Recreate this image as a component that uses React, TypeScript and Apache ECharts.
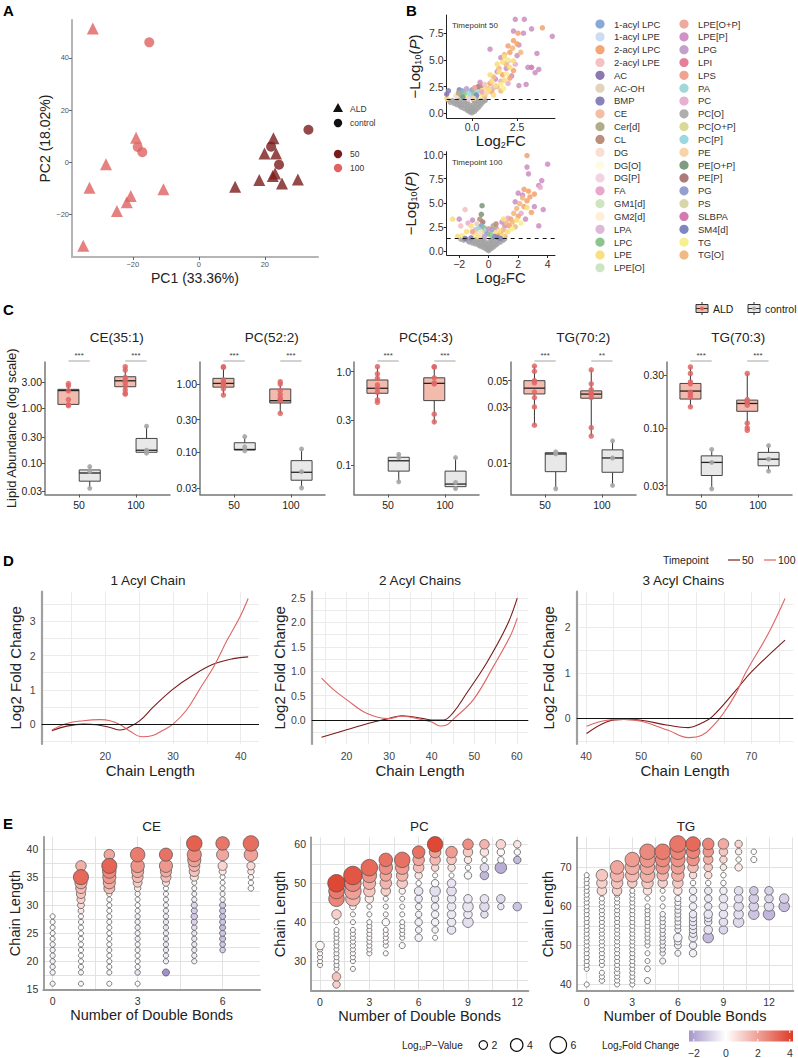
import React, { useEffect, useRef } from "react";
import * as echarts from "echarts";

const FONT = "'Liberation Sans', Arial, Helvetica, sans-serif";
const DARK_RED = "#7A1B1B";
const LIGHT_RED = "#E06262";

// ---------------- Panel A : PCA ----------------
const PCA_ALD_50 = [[11.0, -9.5], [18.3, -6.9], [19.9, 3.3], [22.6, 9.1], [23.4, 3.3], [23.1, -4.4], [22.4, -5.4], [25.2, -8.2], [30.0, -6.7]];
const PCA_CTRL_50 = [[33.2, 12.4], [21.9, 5.9], [24.3, -1.0]];
const PCA_ALD_100 = [[-32.1, 51.3], [-19.0, 9.3], [-28.1, -0.8], [-33.1, -9.9], [-20.6, -13.1], [-21.8, -15.5], [-24.8, -18.8], [-10.7, -10.5], [-35.0, -32.2]];
const PCA_CTRL_100 = [[-15.0, 46.0], [-18.5, 5.8], [-17.1, 3.8]];
const PCA_X_TICKS = [-20, 0, 20];
const PCA_Y_TICKS = [-20, 0, 20, 40];

// ---------------- Panel B : volcano ----------------
const LIPID_CLASSES = ["1-acyl LPC", "1-acyl LPE", "2-acyl LPC", "2-acyl LPE", "AC", "AC-OH", "BMP", "CE", "Cer[d]", "CL", "DG", "DG[O]", "DG[P]", "FA", "GM1[d]", "GM2[d]", "LPA", "LPC", "LPE", "LPE[O]", "LPE[O+P]", "LPE[P]", "LPG", "LPI", "LPS", "PA", "PC", "PC[O]", "PC[O+P]", "PC[P]", "PE", "PE[O+P]", "PE[P]", "PG", "PS", "SLBPA", "SM4[d]", "TG", "TG[O]"];
const CLASS_COLORS = ["#86A9D6", "#CDDCF0", "#F4A673", "#F5C2C2", "#8C78B3", "#E3D3BC", "#8982BA", "#F3BDA6", "#B0AD8A", "#BC8E7E", "#F8DFD2", "#FDFBE6", "#F3D3E3", "#EBA6CB", "#D0E4C0", "#FDF0D9", "#DFB8D9", "#8CC48E", "#F9DF7F", "#CEE5C1", "#EFAAA0", "#CF93C5", "#C3A1CB", "#E5809B", "#F0A392", "#A0D8D9", "#E5B0D1", "#AEAEAE", "#DAD998", "#9DD8E1", "#F9D4A8", "#7E9C81", "#AE7B7B", "#93A0CF", "#D8D6A9", "#D47AB2", "#7F87C3", "#F8F08E", "#F0BA86"];
const VOLC_THRESHOLD = 1.3;
const VOLC50_X_TICKS = [0, 2.5];
const VOLC50_Y_TICKS = [0, 2.5, 5, 7.5];
const VOLC100_X_TICKS = [-2, 0, 2, 4];
const VOLC100_Y_TICKS = [0, 2.5, 5, 7.5, 10];
const VOLC50_GRAY = [[-1.7, 1.2], [-1.5, 1.1], [-1.35, 1.25], [-1.2, 1.0], [-1.1, 1.2], [-1.0, 0.9], [-0.95, 1.15], [-0.85, 0.8], [-0.8, 1.05], [-0.7, 0.7], [-0.65, 1.0], [-0.6, 0.55], [-0.55, 0.85], [-0.5, 1.2], [-0.45, 0.45], [-0.4, 0.75], [-0.35, 1.1], [-0.3, 0.3], [-0.28, 0.6], [-0.22, 0.9], [-0.2, 0.2], [-0.15, 0.45], [-0.12, 0.75], [-0.1, 0.1], [-0.05, 0.3], [0.0, 0.02], [0.0, 0.55], [0.05, 0.2], [0.08, 0.85], [0.1, 0.4], [0.15, 0.15], [0.18, 0.65], [0.2, 1.1], [0.25, 0.35], [0.3, 0.8], [0.35, 0.5], [0.4, 1.0], [0.45, 0.7], [0.5, 1.2], [0.55, 0.9], [0.65, 1.1], [0.75, 1.2], [-0.25, 1.2], [0.1, 1.2], [-0.75, 1.25], [0.3, 1.2]];
const VOLC50_POINTS = [
  [2.4, 8.8, 21], [2.9, 8.8, 21], [2.3, 7.7, 21], [2.85, 7.5, 21], [3.3, 7.9, 21], [4.45, 7.2, 21], [2.6, 6.4, 21], [3.6, 5.6, 21], [3.1, 4.3, 21], [3.3, 4.3, 35], [3.7, 4.1, 21], [1.6, 5.2, 21], [2.0, 4.9, 26], [2.5, 5.4, 21], [1.9, 4.2, 21], [1.3, 3.2, 21], [1.6, 3.0, 26], [2.2, 3.5, 21], [2.6, 2.6, 21], [3.0, 2.7, 21], [1.0, 6.0, 21], [2.4, 4.6, 26], [1.4, 3.9, 21], [2.0, 2.8, 26], [3.5, 3.8, 21], [1.2, 2.4, 26],
  [3.9, 8.0, 2], [2.55, 7.5, 2], [2.3, 6.8, 2], [2.0, 6.3, 2], [2.25, 6.1, 38], [2.5, 6.5, 2], [1.8, 5.5, 38], [2.1, 5.7, 2], [1.9, 4.6, 38], [2.3, 4.0, 2], [1.5, 4.2, 38], [1.7, 3.6, 2], [1.2, 3.4, 38], [1.0, 2.8, 2], [1.4, 2.5, 38], [2.1, 3.3, 2], [0.9, 2.3, 38], [1.1, 2.0, 2], [0.7, 1.6, 38], [1.6, 2.1, 38], [2.7, 5.7, 38],
  [1.8, 5.3, 18], [1.7, 4.8, 18], [2.0, 5.0, 37], [1.4, 4.6, 18], [1.5, 3.9, 18], [1.9, 3.7, 37], [1.1, 3.0, 18], [1.3, 2.6, 18], [1.6, 2.7, 37], [1.8, 3.1, 18], [0.95, 2.2, 18], [0.6, 1.8, 18], [0.4, 1.6, 37], [0.7, 2.4, 18], [1.2, 1.7, 18], [2.3, 4.9, 18], [2.1, 4.3, 18], [1.0, 3.6, 18], [1.75, 2.3, 37], [0.5, 2.1, 18], [-1.4, 1.4, 18], [-0.8, 1.7, 18], [-0.3, 1.5, 37],
  [-1.3, 2.1, 6], [-1.4, 1.8, 4], [-0.7, 2.2, 6], [-0.55, 2.1, 0], [-0.6, 1.7, 0], [-0.4, 1.9, 17], [-0.5, 1.5, 31], [-0.2, 2.0, 29], [-0.1, 1.6, 25], [0.0, 2.2, 0], [0.1, 1.9, 17], [0.2, 1.5, 33], [0.3, 2.1, 25], [0.35, 2.5, 32], [0.5, 2.6, 9], [0.45, 2.9, 21], [0.25, 1.7, 36], [-0.9, 1.6, 10], [-0.75, 1.9, 8], [-0.3, 2.3, 22], [0.15, 2.4, 24], [0.55, 2.0, 13], [0.7, 2.7, 3], [0.1, 1.4, 30], [-0.2, 1.35, 12], [0.8, 1.9, 30],
];
const VOLC100_GRAY = [[-1.9, 1.2], [-1.7, 1.1], [-1.5, 1.2], [-1.4, 1.0], [-1.3, 0.9], [-1.2, 1.15], [-1.1, 0.8], [-1.0, 1.0], [-0.9, 0.7], [-0.85, 1.2], [-0.8, 0.9], [-0.7, 0.6], [-0.65, 1.05], [-0.6, 0.5], [-0.55, 0.8], [-0.5, 1.15], [-0.45, 0.4], [-0.4, 0.65], [-0.35, 0.95], [-0.3, 0.3], [-0.25, 0.55], [-0.2, 0.85], [-0.18, 0.2], [-0.12, 0.45], [-0.08, 0.1], [-0.05, 0.7], [0.0, 0.0], [0.02, 0.3], [0.05, 1.0], [0.08, 0.15], [0.12, 0.5], [0.15, 0.8], [0.2, 0.25], [0.25, 0.6], [0.3, 1.1], [0.35, 0.4], [0.4, 0.8], [0.5, 0.6], [0.55, 1.0], [0.6, 0.75], [0.7, 1.15], [0.8, 0.9], [0.9, 1.2], [1.0, 1.1], [1.1, 1.25], [-0.3, 1.2], [0.2, 1.2]];
const VOLC100_POINTS = [
  [4.0, 9.0, 21], [2.6, 8.7, 21], [2.7, 8.0, 21], [3.6, 7.3, 21], [3.4, 6.8, 21], [3.5, 6.6, 26], [2.0, 6.0, 21], [2.3, 5.8, 21], [1.8, 5.1, 21], [3.7, 4.3, 21], [3.1, 4.6, 21], [2.5, 3.3, 21], [1.3, 3.4, 26], [-1.1, 3.2, 21], [-2.0, 3.3, 21], [-1.4, 2.9, 26], [1.1, 2.6, 21], [0.9, 3.0, 21], [2.2, 3.9, 26], [3.4, 2.6, 21], [0.5, 2.4, 21], [-0.9, 2.2, 26],
  [2.6, 9.9, 2], [2.4, 6.4, 2], [2.7, 6.2, 2], [2.3, 5.5, 38], [2.6, 5.2, 2], [2.1, 4.9, 38], [2.4, 4.6, 2], [1.9, 4.4, 38], [2.8, 5.6, 2], [2.0, 3.6, 2], [1.7, 3.9, 38], [1.5, 3.3, 2], [1.2, 2.9, 38], [1.4, 2.6, 2], [1.0, 2.2, 38], [0.8, 1.8, 2], [1.6, 3.0, 38], [2.9, 4.0, 2], [1.8, 2.5, 38], [0.6, 1.6, 2], [1.1, 1.5, 38], [-1.6, 4.3, 3], [-0.6, 2.5, 2], [3.1, 5.9, 2],
  [-2.45, 3.3, 18], [-1.2, 2.6, 18], [-0.9, 1.9, 18], [-1.5, 2.0, 18], [-1.8, 1.6, 37], [-0.7, 1.5, 18], [-0.4, 2.0, 18], [1.0, 3.3, 18], [1.3, 2.0, 18], [1.6, 2.3, 37], [0.7, 2.1, 18], [0.4, 1.9, 18], [1.9, 3.2, 18], [2.2, 2.9, 37], [0.9, 1.6, 18], [2.6, 4.5, 18], [-2.1, 1.5, 18], [-1.0, 1.7, 37],
  [-0.45, 4.7, 31], [-0.5, 3.8, 31], [-0.6, 3.3, 9], [-0.4, 3.0, 32], [-0.8, 2.8, 5], [-0.5, 2.6, 0], [-0.7, 2.3, 29], [-0.3, 2.4, 17], [-0.2, 2.1, 25], [-0.1, 1.8, 33], [0.2, 2.2, 0], [0.4, 1.5, 36], [-1.6, 1.3, 4], [-1.2, 1.35, 6], [-1.9, 2.6, 3], [0.1, 1.7, 17], [0.3, 2.6, 8], [0.6, 1.4, 6], [-0.3, 1.5, 22], [0.0, 2.3, 21], [-1.1, 2.0, 24], [0.8, 1.3, 36], [-0.6, 1.9, 10], [0.5, 2.8, 9],
];

// ---------------- Panel C : box plots (values on original scale) ----------------
const C_TITLES = ["CE(35:1)", "PC(52:2)", "PC(54:3)", "TG(70:2)", "TG(70:3)"];
const C_TIMEPOINTS = ["50", "100"];
const C_Y_TICKS = [[0.03, 0.1, 0.3, 1, 3], [0.03, 0.1, 0.3, 1], [0.1, 0.3, 1], [0.01, 0.03, 0.05], [0.03, 0.1, 0.3]];
const C_Y_TICK_LABELS = [["0.03", "0.10", "0.30", "1.00", "3.00"], ["0.03", "0.10", "0.30", "1.00"], ["0.1", "0.3", "1.0"], ["0.01", "0.03", "0.05"], ["0.03", "0.10", "0.30"]];
// [min, q1, median, q3, max]
const BOX_ALD_50 = [[1.1, 1.18, 2.12, 2.23, 2.85], [0.69, 0.9, 1.02, 1.21, 1.79], [0.47, 0.587, 0.664, 0.815, 1.13], [0.021, 0.0386, 0.0432, 0.05, 0.0665], [0.155, 0.182, 0.215, 0.252, 0.355]];
const BOX_ALD_100 = [[1.83, 2.49, 3.2, 3.8, 5.8], [0.37, 0.527, 0.57, 0.845, 1.08], [0.28, 0.49, 0.75, 0.86, 1.13], [0.017, 0.0355, 0.0385, 0.041, 0.0617], [0.095, 0.141, 0.166, 0.178, 0.311]];
const BOX_CTRL_50 = [[0.034, 0.046, 0.065, 0.074, 0.085], [0.105, 0.108, 0.11, 0.138, 0.17], [0.066, 0.086, 0.111, 0.121, 0.13], [0.0061, 0.0085, 0.012, 0.0123, 0.0125], [0.028, 0.037, 0.0486, 0.0557, 0.0637]];
const BOX_CTRL_100 = [[0.15, 0.156, 0.17, 0.28, 0.47], [0.03, 0.039, 0.051, 0.0755, 0.112], [0.055, 0.0586, 0.0625, 0.086, 0.12], [0.0065, 0.0084, 0.0111, 0.013, 0.0155], [0.0405, 0.0453, 0.052, 0.0599, 0.069]];
const PTS_ALD_50 = [[2.85, 2.6, 2.1, 1.45, 1.17, 1.12], [1.79, 1.75, 1.15, 1.05, 1.0, 0.95, 0.85, 0.69], [1.13, 0.95, 0.85, 0.72, 0.66, 0.6, 0.5, 0.47], [0.0665, 0.06, 0.05, 0.048, 0.04, 0.036, 0.03, 0.021], [0.355, 0.31, 0.26, 0.25, 0.21, 0.2, 0.19, 0.155]];
const PTS_ALD_100 = [[5.8, 5.04, 3.7, 3.3, 2.95, 2.56, 2.17, 1.88, 1.83], [1.08, 1.0, 0.8, 0.7, 0.62, 0.58, 0.37], [1.13, 1.12, 0.86, 0.76, 0.74, 0.35, 0.29], [0.0617, 0.047, 0.042, 0.04, 0.038, 0.036, 0.02, 0.017], [0.31, 0.18, 0.175, 0.17, 0.16, 0.11, 0.1, 0.095]];
const PTS_CTRL_50 = [[0.085, 0.07, 0.034], [0.17, 0.12, 0.105], [0.13, 0.12, 0.066], [0.0125, 0.012, 0.0061], [0.0637, 0.0486, 0.028]];
const PTS_CTRL_100 = [[0.47, 0.17, 0.15], [0.112, 0.052, 0.03], [0.12, 0.065, 0.056], [0.0155, 0.0111, 0.0065], [0.069, 0.052, 0.0405]];
const SIG_50 = ["***", "***", "***", "***", "***"];
const SIG_100 = ["***", "***", "***", "**", "***"];
const C_Y_RANGE = [[0.0262, 7.08], [0.0241, 2.1], [0.0483, 1.27], [0.00545, 0.0719], [0.0249, 0.394]];

// ---------------- Panel D : smoothed fold change ----------------
const D_TITLES = ["1 Acyl Chain", "2 Acyl Chains", "3 Acyl Chains"];
const D1_50 = [[12.1, -0.19], [14.3, -0.06], [16.75, 0.0], [18.7, -0.02], [20.7, -0.1], [22.2, -0.17], [23.6, -0.08], [25.1, 0.1], [27.1, 0.5], [30, 1.02], [33, 1.43], [36, 1.75], [38.9, 1.91], [41.1, 1.96]];
const D1_100 = [[12.1, -0.17], [14.3, 0.02], [16.75, 0.1], [19.2, 0.13], [20.7, 0.1], [22.2, -0.02], [23.6, -0.2], [25.4, -0.37], [27.0, -0.33], [28.5, -0.18], [30, 0.0], [32, 0.41], [34, 1.04], [36, 1.67], [38, 2.45], [39.9, 3.13], [41.1, 3.66]];
const D2_50 = [[14.1, -0.35], [20, -0.2], [25, -0.07], [29.8, 0.03], [33, 0.09], [38, 0.03], [40, 0.0], [42.7, 0.0], [45.1, 0.16], [48.2, 0.55], [52.9, 1.17], [57.6, 1.92], [60.1, 2.5]];
const D2_100 = [[14.1, 0.86], [17, 0.62], [20, 0.42], [24.7, 0.14], [29.8, 0.03], [33, 0.08], [38, 0.0], [40, -0.04], [42, -0.12], [43.5, -0.1], [45.1, 0.02], [49.8, 0.42], [54.5, 1.1], [58.4, 1.71], [60.1, 2.09]];
const D3_50 = [[40.1, -0.33], [43.8, -0.07], [46.8, -0.02], [50, -0.04], [54.9, -0.15], [58.6, -0.2], [61, -0.1], [62.9, 0.04], [67.2, 0.62], [70, 1.02], [76.1, 1.72]];
const D3_100 = [[40.1, -0.17], [43.8, -0.04], [46.8, -0.02], [50, -0.06], [54.9, -0.26], [58.6, -0.42], [61, -0.37], [62.9, -0.18], [64.9, 0.11], [67.2, 0.55], [68.9, 0.99], [73.1, 1.87], [76.1, 2.63]];

// ---------------- Panel E : bubbles [doubleBonds, chainLength, log10P, log2FC] ----------------
const E_TITLES = ["CE", "PC", "TG"];
const CE_BUBBLES = [
  [0, 16, 0.3, -0.3], [0, 18, 0.4, -0.3], [0, 19, 0.4, -0.3], [0, 20, 0.4, -0.35], [0, 21, 0.4, -0.3], [0, 22, 0.4, -0.3], [0, 23, 0.4, -0.25], [0, 24, 0.3, -0.2], [0, 25, 0.3, -0.2], [0, 26, 0.3, -0.15], [0, 27, 0.3, -0.1], [0, 28, 0.3, -0.1],
  [1, 16, 0.3, -0.2], [1, 18, 0.3, -0.2], [1, 19, 0.3, -0.1], [1, 20, 0.3, -0.05], [1, 21, 0.3, 0], [1, 22, 0.3, 0], [1, 23, 0.3, 0], [1, 24, 0.3, 0], [1, 25, 0.3, 0], [1, 26, 0.3, 0], [1, 27, 0.3, 0.05], [1, 28, 0.3, 0.1], [1, 29, 0.7, 0.5], [1, 30, 1.2, 0.8], [1, 31, 1.8, 1.0], [1, 32, 2.3, 1.3], [1, 33, 3.0, 1.5], [1, 34, 3.8, 1.8], [1, 37, 3.0, 1.7], [1, 35, 5.3, 3.2],
  [2, 16, 0.3, -0.1], [2, 18, 0.3, -0.2], [2, 19, 0.3, -0.1], [2, 20, 0.3, -0.1], [2, 21, 0.3, 0], [2, 22, 0.3, 0], [2, 23, 0.3, 0], [2, 24, 0.3, 0], [2, 25, 0.3, 0], [2, 26, 0.3, 0], [2, 27, 0.3, 0], [2, 28, 0.3, 0], [2, 29, 0.3, 0.05], [2, 30, 0.3, 0.05], [2, 31, 0.3, 0.1], [2, 32, 0.4, 0.1], [2, 33, 3.2, 1.5], [2, 34, 3.8, 1.8], [2, 35, 4.3, 2.2], [2, 36, 4.5, 2.5], [2, 39, 3.0, 1.9], [2, 37, 5.3, 3.3],
  [3, 16, 0.3, -0.1], [3, 18, 0.5, -0.6], [3, 19, 0.3, -0.1], [3, 20, 0.3, -0.1], [3, 21, 0.3, -0.1], [3, 22, 0.3, -0.2], [3, 23, 0.3, -0.2], [3, 24, 0.4, -0.4], [3, 25, 0.4, -0.4], [3, 26, 0.4, -0.4], [3, 27, 0.4, -0.3], [3, 28, 0.4, -0.3], [3, 29, 0.3, -0.1], [3, 30, 0.3, 0], [3, 31, 0.3, 0], [3, 32, 0.4, 0.1], [3, 33, 1.0, 0.5], [3, 34, 2.2, 1.1], [3, 35, 3.2, 1.5], [3, 36, 3.8, 1.8], [3, 37, 4.5, 2.3], [3, 39, 5.0, 2.8],
  [4, 18, 1.3, -2.4], [4, 20, 0.4, -0.4], [4, 21, 0.4, -0.4], [4, 22, 0.4, -0.5], [4, 23, 0.4, -0.5], [4, 24, 0.4, -0.6], [4, 25, 0.4, -0.5], [4, 26, 0.4, -0.6], [4, 27, 0.4, -0.5], [4, 28, 0.4, -0.4], [4, 29, 0.4, -0.4], [4, 30, 0.3, -0.3], [4, 31, 0.3, -0.2], [4, 32, 0.3, -0.1], [4, 33, 0.3, 0], [4, 34, 1.3, 0.7], [4, 35, 2.8, 1.4], [4, 36, 3.3, 1.8], [4, 37, 4.3, 2.2], [4, 39, 4.3, 3.0],
  [5, 20, 0.4, -0.4], [5, 21, 0.4, -0.4], [5, 22, 0.4, -0.5], [5, 23, 0.4, -0.5], [5, 24, 0.4, -0.5], [5, 25, 0.4, -0.6], [5, 26, 0.5, -0.7], [5, 27, 0.8, -1.0], [5, 28, 1.0, -1.2], [5, 29, 0.8, -1.1], [5, 30, 0.8, -0.9], [5, 31, 0.4, -0.4], [5, 32, 0.3, -0.3], [5, 33, 0.3, -0.2], [5, 34, 0.3, -0.1], [5, 35, 1.8, 0.7], [5, 36, 2.8, 1.3], [5, 37, 3.3, 1.6], [5, 38, 4.3, 2.0], [5, 39, 4.8, 2.5], [5, 41, 5.5, 3.4],
  [6, 22, 0.6, -1.1], [6, 23, 0.6, -1.2], [6, 24, 0.8, -1.4], [6, 25, 0.8, -1.3], [6, 26, 0.8, -1.5], [6, 27, 0.8, -1.3], [6, 28, 0.8, -1.4], [6, 29, 0.8, -1.3], [6, 30, 0.8, -1.2], [6, 31, 0.4, -0.3], [6, 32, 0.3, -0.2], [6, 33, 0.3, -0.2], [6, 34, 0.3, -0.1], [6, 35, 0.3, 0], [6, 36, 1.3, 0.5], [6, 37, 2.3, 0.9], [6, 39, 3.8, 1.9], [6, 41, 4.5, 2.9],
  [7, 33, 0.6, 0.1], [7, 34, 0.4, 0.1], [7, 35, 0.4, 0.2], [7, 36, 1.0, 0.5], [7, 37, 1.8, 0.8], [7, 39, 4.5, 2.0], [7, 41, 5.5, 3.1],
];
const PC_BUBBLES = [
  [0, 29, 0.3, 0.1], [0, 30, 0.3, 0.1], [0, 31, 0.3, 0.1], [0, 32, 0.3, 0.1], [0, 33, 0.3, 0.1], [0, 34, 2.0, 0.2],
  [1, 24, 1.5, 1.0], [1, 26, 2.0, 1.3], [1, 28, 0.3, 0.1], [1, 29, 0.3, 0.1], [1, 30, 0.3, 0.1], [1, 31, 0.3, 0.1], [1, 32, 0.3, 0.1], [1, 33, 0.3, 0.1], [1, 34, 0.3, 0.1], [1, 35, 0.3, 0.1], [1, 36, 0.3, 0.1], [1, 37, 0.3, 0.1], [1, 38, 0.3, 0.1], [1, 40, 0.3, 0.1], [1, 42, 2.5, 1.0], [1, 46, 5.5, 2.6], [1, 48, 5.5, 2.8], [1, 50, 6.5, 3.9],
  [2, 28, 0.3, 0.1], [2, 30, 0.3, 0.1], [2, 31, 0.3, 0.1], [2, 32, 0.3, 0.1], [2, 33, 0.3, 0.1], [2, 34, 0.3, 0.1], [2, 35, 0.3, 0.1], [2, 36, 0.3, 0.1], [2, 37, 0.3, 0.1], [2, 38, 0.3, 0.1], [2, 40, 0.3, 0.1], [2, 42, 0.3, 0.1], [2, 44, 1.0, 0.2], [2, 46, 5.0, 1.6], [2, 48, 6.0, 2.0], [2, 50, 6.0, 2.6], [2, 52, 7.0, 3.6],
  [3, 32, 0.3, 0.1], [3, 33, 0.3, 0.1], [3, 34, 0.3, 0.1], [3, 35, 0.3, 0.1], [3, 36, 0.3, 0.1], [3, 37, 0.3, 0.1], [3, 38, 0.3, 0.1], [3, 39, 0.3, 0.1], [3, 40, 0.3, 0.1], [3, 42, 0.3, 0.1], [3, 44, 0.3, 0.1], [3, 46, 2.0, 0.5], [3, 48, 3.5, 1.2], [3, 50, 4.0, 1.7], [3, 52, 5.0, 2.3], [3, 54, 6.0, 3.2],
  [4, 32, 0.3, 0.1], [4, 34, 0.3, 0.1], [4, 35, 0.3, 0.1], [4, 36, 0.3, 0.1], [4, 37, 0.3, 0.1], [4, 38, 0.3, 0.1], [4, 40, 1.5, 0.1], [4, 42, 0.3, 0.1], [4, 44, 0.3, 0.1], [4, 46, 0.3, 0.1], [4, 48, 2.5, 1.0], [4, 50, 3.5, 1.6], [4, 52, 3.5, 1.9], [4, 54, 4.5, 2.4], [4, 56, 4.5, 3.0],
  [5, 34, 0.8, 0.1], [5, 36, 0.3, 0.1], [5, 37, 0.3, 0.1], [5, 38, 0.3, 0.1], [5, 39, 0.3, 0.1], [5, 40, 0.3, 0.1], [5, 42, 0.3, 0.1], [5, 44, 0.3, 0.1], [5, 46, 0.3, 0.1], [5, 48, 1.0, 0.3], [5, 50, 3.0, 1.1], [5, 52, 3.5, 1.6], [5, 54, 4.5, 2.1], [5, 56, 5.5, 3.0],
  [6, 36, 1.5, -0.3], [6, 38, 1.0, -0.3], [6, 40, 1.5, -0.4], [6, 42, 1.0, -0.3], [6, 44, 1.0, -0.3], [6, 46, 1.5, -0.5], [6, 48, 2.0, -0.6], [6, 50, 0.5, 0.0], [6, 52, 1.5, 0.6], [6, 54, 3.0, 1.4], [6, 56, 3.5, 1.9], [6, 58, 4.0, 3.0],
  [7, 36, 0.3, 0.0], [7, 38, 1.0, -0.3], [7, 40, 1.5, -0.3], [7, 42, 1.5, -0.3], [7, 44, 1.5, -0.4], [7, 46, 1.5, -0.5], [7, 48, 3.0, -0.7], [7, 50, 1.5, -0.2], [7, 52, 0.3, 0.0], [7, 54, 1.5, 0.8], [7, 56, 3.0, 1.5], [7, 58, 3.5, 2.0], [7, 60, 5.5, 3.9],
  [8, 38, 2.0, -0.6], [8, 40, 2.0, -0.5], [8, 42, 2.0, -0.5], [8, 44, 2.0, -0.5], [8, 46, 2.0, -0.5], [8, 48, 2.5, -0.7], [8, 50, 2.0, -0.6], [8, 52, 0.3, 0.0], [8, 54, 1.5, 0.6], [8, 56, 2.5, 1.2], [8, 58, 3.5, 2.1],
  [9, 40, 3.0, -0.7], [9, 42, 2.0, -0.5], [9, 44, 3.0, -0.6], [9, 46, 2.0, -0.5], [9, 52, 1.5, -0.2], [9, 54, 0.5, 0.0], [9, 56, 1.5, 0.5], [9, 58, 2.5, 1.1], [9, 60, 3.0, 2.4],
  [10, 42, 1.5, -0.7], [10, 44, 2.5, -0.8], [10, 46, 2.0, -0.6], [10, 52, 2.0, -1.6], [10, 54, 2.0, -0.8], [10, 56, 0.5, 0.0], [10, 58, 2.0, 0.6], [10, 60, 2.5, 1.6],
  [11, 44, 1.0, -0.5], [11, 46, 2.0, -0.8], [11, 54, 3.5, -1.8], [11, 56, 1.0, -0.1], [11, 58, 1.5, 0.1], [11, 60, 2.5, 0.9],
  [12, 44, 2.0, -1.3], [12, 56, 1.5, -1.5], [12, 58, 1.0, -0.2], [12, 60, 1.5, 0.6],
];
const TG_BUBBLES = [
  [0, 40, 0.3, 0], [0, 44, 0.3, 0], [0, 45, 0.3, 0], [0, 46, 0.3, 0], [0, 47, 0.3, 0], [0, 48, 0.3, 0], [0, 49, 0.3, 0], [0, 50, 0.3, 0], [0, 51, 0.3, 0], [0, 52, 0.3, 0], [0, 53, 0.3, 0], [0, 54, 0.3, 0], [0, 55, 0.3, 0], [0, 56, 0.3, 0], [0, 57, 0.3, 0], [0, 58, 0.3, 0], [0, 59, 0.3, 0], [0, 60, 0.3, 0], [0, 61, 0.3, 0], [0, 62, 0.3, 0], [0, 63, 0.3, 0], [0, 64, 0.3, 0], [0, 65, 0.3, 0], [0, 66, 0.3, 0], [0, 67, 0.3, 0], [0, 68, 0.3, 0],
  [1, 41, 0.5, -0.1], [1, 42, 0.3, 0], [1, 43, 0.3, 0], [1, 45, 0.3, 0], [1, 46, 0.3, 0], [1, 47, 0.3, 0], [1, 48, 0.3, 0], [1, 49, 0.3, 0], [1, 50, 0.3, 0], [1, 51, 0.3, 0], [1, 52, 0.3, 0], [1, 53, 0.3, 0], [1, 54, 0.3, 0], [1, 55, 0.3, 0], [1, 56, 0.3, 0], [1, 57, 0.3, 0], [1, 58, 0.3, 0], [1, 59, 0.3, 0], [1, 60, 0.3, 0], [1, 61, 0.3, 0], [1, 62, 0.3, 0], [1, 64, 2.5, 0.8], [1, 66, 3.0, 1.0], [1, 68, 3.5, 1.2],
  [2, 40, 0.3, 0], [2, 41, 0.3, 0], [2, 42, 0.3, 0], [2, 43, 0.5, -0.1], [2, 44, 0.3, 0], [2, 45, 0.3, 0], [2, 46, 0.3, 0], [2, 47, 0.3, 0], [2, 48, 0.3, 0], [2, 49, 0.3, 0], [2, 50, 0.3, 0], [2, 51, 0.3, 0], [2, 52, 0.3, 0], [2, 53, 0.3, 0], [2, 54, 0.3, 0], [2, 55, 0.3, 0], [2, 56, 0.3, 0], [2, 57, 0.3, 0], [2, 58, 0.3, 0], [2, 59, 0.3, 0], [2, 60, 0.3, 0], [2, 61, 0.3, 0], [2, 62, 0.3, 0], [2, 63, 0.3, 0.1], [2, 64, 2.5, 1.0], [2, 66, 3.5, 1.3], [2, 68, 4.5, 1.6], [2, 70, 4.5, 1.9],
  [3, 40, 0.3, 0], [3, 41, 0.3, 0], [3, 42, 0.3, 0], [3, 43, 0.3, 0], [3, 44, 0.3, 0], [3, 45, 0.3, 0], [3, 46, 0.3, 0], [3, 47, 0.3, 0], [3, 48, 0.3, 0], [3, 49, 0.3, 0], [3, 50, 0.3, 0], [3, 51, 0.3, 0], [3, 52, 0.3, 0], [3, 53, 0.3, 0], [3, 54, 0.3, 0], [3, 55, 0.3, 0], [3, 56, 0.3, 0], [3, 57, 0.3, 0], [3, 58, 0.3, 0], [3, 59, 0.3, 0], [3, 60, 0.3, 0], [3, 61, 0.3, 0], [3, 62, 0.3, 0], [3, 63, 0.3, 0], [3, 64, 0.3, 0.1], [3, 66, 2.5, 1.1], [3, 68, 4.5, 1.5], [3, 70, 5.0, 1.8], [3, 72, 5.0, 2.1],
  [4, 41, 0.8, -0.1], [4, 44, 0.6, -0.1], [4, 46, 0.3, -0.1], [4, 48, 0.3, -0.1], [4, 50, 0.3, -0.1], [4, 51, 0.3, -0.1], [4, 52, 0.3, -0.1], [4, 53, 0.3, -0.1], [4, 54, 0.3, -0.1], [4, 55, 0.3, -0.1], [4, 56, 0.3, -0.1], [4, 57, 0.3, -0.1], [4, 58, 0.3, -0.1], [4, 59, 0.3, -0.1], [4, 60, 0.3, -0.1], [4, 62, 0.3, 0], [4, 64, 2.0, 0.6], [4, 66, 3.5, 1.2], [4, 68, 5.0, 1.7], [4, 70, 5.0, 1.9], [4, 72, 5.5, 2.2], [4, 74, 5.5, 2.5],
  [5, 46, 0.8, -0.3], [5, 48, 0.5, -0.3], [5, 49, 0.5, -0.3], [5, 50, 0.5, -0.3], [5, 51, 0.5, -0.3], [5, 52, 0.5, -0.3], [5, 53, 0.5, -0.3], [5, 54, 0.5, -0.2], [5, 55, 0.5, -0.2], [5, 56, 0.5, -0.2], [5, 57, 0.5, -0.2], [5, 58, 0.5, -0.2], [5, 60, 0.3, -0.1], [5, 62, 0.3, -0.1], [5, 64, 0.3, 0], [5, 66, 2.5, 1.0], [5, 68, 3.5, 1.6], [5, 70, 4.5, 2.2], [5, 72, 5.0, 2.5], [5, 74, 5.5, 2.8],
  [6, 48, 0.8, -0.3], [6, 50, 1.2, -0.3], [6, 51, 1.2, -0.3], [6, 52, 2.0, -0.3], [6, 54, 0.8, -0.3], [6, 55, 0.8, -0.3], [6, 56, 0.8, -0.3], [6, 57, 0.8, -0.3], [6, 58, 0.8, -0.3], [6, 59, 0.8, -0.3], [6, 60, 0.8, -0.3], [6, 61, 0.8, -0.2], [6, 62, 0.8, -0.2], [6, 64, 2.0, 0.6], [6, 66, 3.0, 1.2], [6, 68, 4.0, 1.7], [6, 70, 4.5, 2.0], [6, 72, 5.0, 2.3], [6, 74, 5.5, 2.6], [6, 76, 6.0, 2.9],
  [7, 48, 1.5, -0.3], [7, 50, 1.5, -0.4], [7, 52, 2.0, -0.5], [7, 53, 1.5, -0.5], [7, 54, 1.5, -0.5], [7, 55, 1.5, -0.5], [7, 56, 1.5, -0.5], [7, 57, 1.5, -0.5], [7, 58, 1.5, -0.5], [7, 60, 1.5, -0.4], [7, 62, 1.5, -0.4], [7, 64, 1.5, -0.4], [7, 66, 0.5, 0], [7, 68, 1.5, 0.8], [7, 70, 3.0, 1.5], [7, 72, 4.0, 2.3], [7, 74, 4.5, 2.6], [7, 76, 5.0, 3.2],
  [8, 52, 3.0, -1.5], [8, 54, 2.0, -0.6], [8, 56, 1.5, -0.5], [8, 57, 1.5, -0.5], [8, 58, 2.0, -0.6], [8, 60, 1.5, -0.6], [8, 62, 1.5, -0.5], [8, 64, 1.5, -0.5], [8, 66, 0.5, 0], [8, 68, 1.5, 0.7], [8, 70, 2.0, 1.2], [8, 72, 2.5, 1.7], [8, 74, 3.0, 2.2], [8, 76, 3.5, 2.6],
  [9, 54, 2.0, -0.9], [9, 56, 2.0, -0.7], [9, 58, 2.0, -0.6], [9, 60, 2.0, -0.6], [9, 62, 2.0, -0.6], [9, 64, 1.5, -0.4], [9, 66, 0.5, 0], [9, 68, 0.5, 0], [9, 70, 1.0, 0.5], [9, 72, 1.5, 0.9], [9, 74, 2.0, 1.2], [9, 76, 3.0, 1.8],
  [10, 56, 3.0, -0.8], [10, 58, 2.5, -0.7], [10, 60, 2.5, -0.8], [10, 62, 2.0, -0.7], [10, 64, 2.0, -0.7], [10, 70, 1.5, 0.5], [10, 72, 0.5, 0.1], [10, 74, 1.0, 0.4], [10, 76, 1.5, 0.9],
  [11, 58, 3.0, -1.3], [11, 60, 2.5, -1.0], [11, 62, 2.5, -1.1], [11, 64, 2.0, -1.2], [11, 72, 0.8, 0], [11, 74, 0.5, 0],
  [12, 58, 3.5, -1.6], [12, 60, 2.5, -0.8], [12, 62, 2.0, -0.9], [12, 64, 2.0, -1.0],
  [13, 60, 3.0, -1.4], [13, 62, 2.5, -1.0],
];
const SIZE_LEGEND_VALUES = [2, 4, 6];
const FC_LEGEND_TICKS = [-2, 0, 2, 4];
const FC_RANGE = [-2.3, 4.2];
const FC_COLORS = ["#5B3FA0", "#FFFFFF", "#DE3A26"];
const FC_LIMIT = 4.2;

// ---------------- helpers ----------------
const bubbleSize = (p: number) => 4.5 + 2 * p;
const minus = (v: number) => (v < 0 ? "\u2212" + Math.abs(v) : String(v));
const fcColor = (v: number) => echarts.color.lerp((v + FC_LIMIT) / (2 * FC_LIMIT), FC_COLORS);

function ax(gridIndex: number, min: number, max: number, o: any) {
  return {
    type: "value",
    gridIndex,
    min,
    max,
    axisLine: { show: o.line ?? true, onZero: false, lineStyle: { color: o.lineColor ?? "#888", width: o.lineWidth ?? 1 } },
    axisTick: { show: o.tick ?? true, length: 3, customValues: o.ticks ?? o.labels, lineStyle: { color: o.tickColor ?? o.lineColor ?? "#888" } },
    axisLabel: {
      customValues: o.labels,
      formatter: o.fmt ?? ((v: number) => String(v)),
      fontSize: o.fs ?? 10,
      color: o.color ?? "#333",
      fontFamily: FONT,
      margin: o.margin ?? 4,
      hideOverlap: false,
    },
    splitLine: { show: o.split ?? false, lineStyle: { color: o.splitColor ?? "#EBEBEB", width: 1 } },
    name: o.name ?? "",
    nameLocation: "middle",
    nameGap: o.nameGap ?? 20,
    nameTextStyle: { fontSize: o.nameFs ?? 13, color: "#222", fontFamily: FONT, rich: o.rich },
  };
}

function txt(text: string, x: number, y: number, size: number, o: any = {}) {
  return {
    type: "text",
    x,
    y,
    silent: true,
    style: {
      text,
      x: 0,
      y: 0,
      font: `${o.bold ? "bold " : ""}${size}px ${FONT}`,
      fill: o.color ?? "#222",
      align: o.align ?? "left",
      textAlign: o.align ?? "left",
      verticalAlign: o.va ?? "middle",
      textVerticalAlign: o.va ?? "middle",
      rich: o.rich,
    },
  };
}

function buildOption() {
  const grid: any[] = [];
  const xAxis: any[] = [];
  const yAxis: any[] = [];
  const series: any[] = [];
  const graphic: any[] = [];

  // ---------- A ----------
  grid.push({ left: 72, top: 20, width: 246, height: 237 });
  const aStyle = { lineColor: "#B5B5B5", lineWidth: 2, tickColor: "#666", fs: 7.5, color: "#555", margin: 3 };
  xAxis.push(ax(0, -38.4, 36.1, { ...aStyle, labels: PCA_X_TICKS, fmt: minus, name: "PC1 (33.36%)", nameGap: 14, nameFs: 14 }));
  yAxis.push(ax(0, -36.5, 54.6, { ...aStyle, labels: PCA_Y_TICKS, fmt: minus, name: "PC2 (18.02%)", nameGap: 20, nameFs: 14 }));
  series.push({ type: "scatter", xAxisIndex: 0, yAxisIndex: 0, data: PCA_ALD_50, symbol: "triangle", symbolSize: 12, itemStyle: { color: DARK_RED } });
  series.push({ type: "scatter", xAxisIndex: 0, yAxisIndex: 0, data: PCA_CTRL_50, symbol: "circle", symbolSize: 10, itemStyle: { color: DARK_RED } });
  series.push({ type: "scatter", xAxisIndex: 0, yAxisIndex: 0, data: PCA_ALD_100, symbol: "triangle", symbolSize: 12, itemStyle: { color: LIGHT_RED } });
  series.push({ type: "scatter", xAxisIndex: 0, yAxisIndex: 0, data: PCA_CTRL_100, symbol: "circle", symbolSize: 10, itemStyle: { color: LIGHT_RED } });

  // ---------- B ----------
  const bRich = { n: { fontSize: 15, fontFamily: FONT, color: "#222" }, s: { fontSize: 9, fontFamily: FONT, color: "#222", padding: [8, 0, 0, 0] }, i: { fontSize: 15, fontFamily: FONT, color: "#222", fontStyle: "italic" } };
  const yName = "{n|\u2212Log}{s|10}{n|(}{i|P}{n|)}";
  const xName = "{n|Log}{s|2}{n|FC}";
  const bStyle = { lineColor: "#222", tickColor: "#222", fs: 10.5, color: "#333", margin: 3, rich: bRich };
  grid.push({ left: 446.7, top: 15, width: 108.3, height: 103 });
  grid.push({ left: 446.7, top: 151.7, width: 108.3, height: 103.3 });
  xAxis.push(ax(1, -1.4, 4.6, { ...bStyle, labels: VOLC50_X_TICKS, fmt: (v: number) => v.toFixed(1), name: xName, nameGap: 14 }));
  yAxis.push(ax(1, -0.44, 9.2, { ...bStyle, labels: VOLC50_Y_TICKS, fmt: (v: number) => v.toFixed(1), name: yName, nameGap: 24 }));
  xAxis.push(ax(2, -2.85, 4.5, { ...bStyle, labels: VOLC100_X_TICKS, fmt: minus, name: xName, nameGap: 12 }));
  yAxis.push(ax(2, -0.42, 10.3, { ...bStyle, labels: VOLC100_Y_TICKS, fmt: (v: number) => v.toFixed(1), name: yName, nameGap: 28 }));
  const thresholdLine = { silent: true, symbol: ["none", "none"], label: { show: false }, lineStyle: { color: "#111", type: [4, 4], width: 1 }, data: [{ yAxis: VOLC_THRESHOLD }] };
  const volcColored = (pts: number[][]) => pts.map(([x, y, c]) => ({ value: [x, y], itemStyle: { color: CLASS_COLORS[c] } }));
  series.push({ type: "scatter", xAxisIndex: 1, yAxisIndex: 1, data: VOLC50_GRAY, symbolSize: 5, itemStyle: { color: "#A3A3A3", opacity: 0.85 }, markLine: thresholdLine });
  series.push({ type: "scatter", xAxisIndex: 1, yAxisIndex: 1, data: volcColored(VOLC50_POINTS), symbolSize: 5.5, itemStyle: { opacity: 0.9 } });
  series.push({ type: "scatter", xAxisIndex: 2, yAxisIndex: 2, data: VOLC100_GRAY, symbolSize: 5, itemStyle: { color: "#A3A3A3", opacity: 0.85 }, markLine: thresholdLine });
  series.push({ type: "scatter", xAxisIndex: 2, yAxisIndex: 2, data: volcColored(VOLC100_POINTS), symbolSize: 5.5, itemStyle: { opacity: 0.9 } });
  graphic.push(txt("Timepoint 50", 452, 25, 8, { color: "#333" }));
  graphic.push(txt("Timepoint 100", 452, 162, 8, { color: "#333" }));
  LIPID_CLASSES.forEach((name, i) => {
    const col = i < 20 ? 0 : 1;
    const row = i < 20 ? i : i - 20;
    const cx = col === 0 ? 600 : 684;
    const cy = 24 + row * 12.83;
    graphic.push({ type: "circle", silent: true, shape: { cx, cy, r: 4.6 }, style: { fill: CLASS_COLORS[i] } });
    graphic.push(txt(name, cx + 14, cy, 9.5, { color: "#333" }));
  });

  // ---------- C ----------
  const C_LEFTS = [45, 200, 354, 511, 667];
  const DODGE = 0.1875;
  const BOX_W = 0.37;
  const boxRender = (fill: string) => (params: any, api: any) => {
    const x = api.value(0);
    const lo = api.coord([x, api.value(1)]);
    const q1 = api.coord([x, api.value(2)]);
    const med = api.coord([x, api.value(3)]);
    const q3 = api.coord([x, api.value(4)]);
    const hi = api.coord([x, api.value(5)]);
    const w = api.size([BOX_W, 0])[0];
    const cx = med[0];
    const l = cx - w / 2;
    const st = { stroke: "#333", lineWidth: 1 };
    return {
      type: "group",
      children: [
        { type: "line", shape: { x1: cx, y1: hi[1], x2: cx, y2: q3[1] }, style: st },
        { type: "line", shape: { x1: cx, y1: q1[1], x2: cx, y2: lo[1] }, style: st },
        { type: "rect", shape: { x: l, y: q3[1], width: w, height: q1[1] - q3[1] }, style: { fill, stroke: "#444", lineWidth: 1 } },
        { type: "line", shape: { x1: l, y1: med[1], x2: l + w, y2: med[1] }, style: { stroke: "#222", lineWidth: 1.3 } },
      ],
    };
  };
  const L = Math.log10;
  C_TITLES.forEach((title, p) => {
    const gi = 3 + p;
    grid.push({ left: C_LEFTS[p], top: 362, width: 125, height: 132.5 });
    const labelsLog = C_Y_TICKS[p].map(L);
    xAxis.push(ax(gi, 0.4, 2.6, { lineColor: "#777", lineWidth: 1.5, tickColor: "#555", fs: 10.5, color: "#222", labels: [1, 2], fmt: (v: number) => C_TIMEPOINTS[Math.round(v) - 1], margin: 5 }));
    yAxis.push(ax(gi, L(C_Y_RANGE[p][0]), L(C_Y_RANGE[p][1]), {
      lineColor: "#777", lineWidth: 1.5, tickColor: "#555", fs: 10.5, color: "#222", labels: labelsLog, margin: 3,
      fmt: (v: number) => { let best = 0; labelsLog.forEach((lv, k) => { if (Math.abs(lv - v) < Math.abs(labelsLog[best] - v)) best = k; }); return C_Y_TICK_LABELS[p][best]; },
      name: p === 0 ? "Lipid Abundance (log scale)" : "", nameGap: 26, nameFs: 13,
    }));
    const boxRow = (x: number, b: number[]) => [x, ...b.map(L)];
    series.push({ type: "custom", xAxisIndex: gi, yAxisIndex: gi, renderItem: boxRender("#F2BBAE"), data: [boxRow(1 - DODGE, BOX_ALD_50[p]), boxRow(2 - DODGE, BOX_ALD_100[p])], z: 2 });
    series.push({ type: "custom", xAxisIndex: gi, yAxisIndex: gi, renderItem: boxRender("#E8E8E8"), data: [boxRow(1 + DODGE, BOX_CTRL_50[p]), boxRow(2 + DODGE, BOX_CTRL_100[p])], z: 2 });
    const pts = (x: number, vals: number[]) => vals.map((v) => [x, L(v)]);
    series.push({ type: "scatter", xAxisIndex: gi, yAxisIndex: gi, z: 3, symbolSize: 5.5, itemStyle: { color: "#E06666", opacity: 0.85 }, data: [...pts(1 - DODGE, PTS_ALD_50[p]), ...pts(2 - DODGE, PTS_ALD_100[p])] });
    series.push({ type: "scatter", xAxisIndex: gi, yAxisIndex: gi, z: 3, symbolSize: 5, itemStyle: { color: "#A6A6A6", opacity: 0.9 }, data: [...pts(1 + DODGE, PTS_CTRL_50[p]), ...pts(2 + DODGE, PTS_CTRL_100[p])] });
    const sigLabels = [SIG_50[p], SIG_100[p]];
    const top = L(C_Y_RANGE[p][1]);
    series.push({
      type: "custom", xAxisIndex: gi, yAxisIndex: gi, z: 4, clip: false,
      data: [[1 - DODGE, 1 + DODGE, top], [2 - DODGE, 2 + DODGE, top]],
      renderItem: (params: any, api: any) => {
        const a = api.coord([api.value(0), api.value(2)]);
        const b = api.coord([api.value(1), api.value(2)]);
        return {
          type: "group",
          children: [
            { type: "line", shape: { x1: a[0], y1: a[1] - 1, x2: b[0], y2: b[1] - 1 }, style: { stroke: "#B5B5B5", lineWidth: 1.2 } },
            { type: "text", x: (a[0] + b[0]) / 2, y: a[1] - 3, style: { text: sigLabels[params.dataIndex], fill: "#444", font: `8px ${FONT}`, align: "center", verticalAlign: "bottom" } },
          ],
        };
      },
    });
  });
  const C_TITLE_X = [116.7, 271.7, 426, 583.3, 738.3];
  C_TITLES.forEach((t, p) => graphic.push(txt(t, C_TITLE_X[p], 337, 13.5, { align: "center" })));
  // legend C
  [["ALD", "#F2BBAE", "#E06666", 702], ["control", "#E8E8E8", "#A6A6A6", 754]].forEach(([name, fill, dot, x]: any) => {
    graphic.push({ type: "line", silent: true, shape: { x1: x, y1: 302, x2: x, y2: 315 }, style: { stroke: "#333", lineWidth: 1 } });
    graphic.push({ type: "rect", silent: true, shape: { x: x - 6, y: 304.5, width: 12, height: 8 }, style: { fill, stroke: "#333", lineWidth: 1 } });
    graphic.push({ type: "line", silent: true, shape: { x1: x - 6, y1: 308.5, x2: x + 6, y2: 308.5 }, style: { stroke: "#333", lineWidth: 1 } });
    graphic.push({ type: "circle", silent: true, shape: { cx: x, cy: 308.5, r: 2 }, style: { fill: dot } });
    graphic.push(txt(name, x + 11, 308.5, 10.5, { color: "#222" }));
  });

  // ---------- D ----------
  const zeroLine = { silent: true, symbol: ["none", "none"], label: { show: false }, lineStyle: { color: "#111", type: "solid", width: 1 }, data: [{ yAxis: 0 }] };
  const dCfg = [
    { left: 41.7, x: [10.6, 42.7], y: [-0.58, 3.86], xl: [20, 30, 40], xg: [15, 20, 25, 30, 35, 40], yl: [0, 1, 2, 3], yg: [-0.5, 0, 0.5, 1, 1.5, 2, 2.5, 3, 3.5], yf: (v: number) => String(v), gap: 19, d50: D1_50, d100: D1_100 },
    { left: 311.7, x: [11.8, 62.7], y: [-0.49, 2.63], xl: [20, 30, 40, 50, 60], xg: [15, 20, 25, 30, 35, 40, 45, 50, 55, 60], yl: [0, 0.5, 1, 1.5, 2, 2.5], yg: [-0.25, 0, 0.25, 0.5, 0.75, 1, 1.25, 1.5, 1.75, 2, 2.25, 2.5], yf: (v: number) => v.toFixed(1), gap: 24, d50: D2_50, d100: D2_100 },
    { left: 576.7, x: [38.3, 77.6], y: [-0.56, 2.78], xl: [40, 50, 60, 70], xg: [40, 45, 50, 55, 60, 65, 70, 75], yl: [0, 1, 2], yg: [-0.5, 0, 0.5, 1, 1.5, 2, 2.5], yf: (v: number) => String(v), gap: 21, d50: D3_50, d100: D3_100 },
  ];
  dCfg.forEach((c, k) => {
    const gi = 8 + k;
    grid.push({ left: c.left, top: 591.7, width: k === 0 ? 217.3 : 216.6, height: 152.3 });
    xAxis.push(ax(gi, c.x[0], c.x[1], { line: false, tick: false, split: true, labels: c.xl, ticks: c.xg, fs: 10.5, color: "#444", margin: 6, name: "Chain Length", nameGap: 19, nameFs: 15 }));
    yAxis.push(ax(gi, c.y[0], c.y[1], { lineColor: "#A0A0A0", lineWidth: 2.2, tick: false, split: true, labels: c.yl, ticks: c.yg, fmt: c.yf, fs: 10.5, color: "#444", margin: 6, name: "Log2 Fold Change", nameGap: c.gap, nameFs: 15 }));
    series.push({ type: "line", xAxisIndex: gi, yAxisIndex: gi, data: c.d50, smooth: 0.4, symbol: "none", lineStyle: { color: DARK_RED, width: 1.1 }, markLine: zeroLine, z: 3 });
    series.push({ type: "line", xAxisIndex: gi, yAxisIndex: gi, data: c.d100, smooth: 0.4, symbol: "none", lineStyle: { color: LIGHT_RED, width: 1.1 }, z: 3 });
  });
  const D_TITLE_X = [148, 420, 683.3];
  D_TITLES.forEach((t, k) => graphic.push(txt(t, D_TITLE_X[k], 580, 13.5, { align: "center" })));
  graphic.push(txt("Timepoint", 663, 560, 10.5, { color: "#222" }));
  graphic.push({ type: "line", silent: true, shape: { x1: 728, y1: 560, x2: 740, y2: 560 }, style: { stroke: DARK_RED, lineWidth: 1.2 } });
  graphic.push(txt("50", 742, 560, 10.5, { color: "#222" }));
  graphic.push({ type: "line", silent: true, shape: { x1: 764, y1: 560, x2: 776, y2: 560 }, style: { stroke: LIGHT_RED, lineWidth: 1.2 } });
  graphic.push(txt("100", 778, 560, 10.5, { color: "#222" }));

  // ---------- E ----------
  const eCfg = [
    { left: 43.3, top: 836.7, w: 216.7, h: 152.6, x: [-0.33, 7.32], y: [15, 42.2], xl: [0, 3, 6], xg: [0, 1.5, 3, 4.5, 6], yl: [15, 20, 25, 30, 35, 40], yg: [15, 17.5, 20, 22.5, 25, 27.5, 30, 32.5, 35, 37.5, 40], gap: 21, data: CE_BUBBLES },
    { left: 311, top: 837.3, w: 217.3, h: 153.4, x: [-0.55, 12.67], y: [22.4, 61.8], xl: [0, 3, 6, 9, 12], xg: [0, 1.5, 3, 4.5, 6, 7.5, 9, 10.5, 12], yl: [30, 40, 50, 60], yg: [25, 30, 35, 40, 45, 50, 55, 60], gap: 24, data: PC_BUBBLES },
    { left: 576.7, top: 837.3, w: 216.6, h: 153.4, x: [-0.66, 13.6], y: [38.4, 77.7], xl: [0, 3, 6, 9, 12], xg: [0, 1.5, 3, 4.5, 6, 7.5, 9, 10.5, 12, 13.5], yl: [40, 50, 60, 70], yg: [40, 45, 50, 55, 60, 65, 70, 75], gap: 21, data: TG_BUBBLES },
  ];
  const bubbleSeries: number[] = [];
  eCfg.forEach((c, k) => {
    const gi = 11 + k;
    grid.push({ left: c.left, top: c.top, width: c.w, height: c.h });
    xAxis.push(ax(gi, c.x[0], c.x[1], { lineColor: "#9A9A9A", lineWidth: 2, tick: false, split: true, splitColor: "#E2E2E2", labels: c.xl, ticks: c.xg, fs: 10.5, color: "#333", margin: 6, name: "Number of Double Bonds", nameGap: 18, nameFs: 14.5 }));
    yAxis.push(ax(gi, c.y[0], c.y[1], { lineColor: "#808080", lineWidth: 1.5, tick: false, split: true, splitColor: "#E2E2E2", labels: c.yl, ticks: c.yg, fs: 10.5, color: "#333", margin: 5, name: "Chain Length", nameGap: c.gap, nameFs: 14.5 }));
    bubbleSeries.push(series.length);
    series.push({
      type: "scatter", xAxisIndex: gi, yAxisIndex: gi, data: c.data,
      symbolSize: (v: number[]) => bubbleSize(v[2]),
      itemStyle: { borderColor: "#4A4A4A", borderWidth: 0.7, opacity: 1 },
    });
  });
  const E_TITLE_X = [151.7, 419.3, 686];
  E_TITLES.forEach((t, k) => graphic.push(txt(t, E_TITLE_X[k], 826, 13.5, { align: "center" })));

  // size legend
  graphic.push(txt("{a|Log}{b|10}{a|P\u2212Value}", 402, 1045, 10, { rich: { a: { fontSize: 10, fontFamily: FONT, fill: "#222", color: "#222" }, b: { fontSize: 6, fontFamily: FONT, fill: "#222", color: "#222", padding: [5, 0, 0, 0] } } }));
  const SIZE_X = [483.3, 516.7, 558.3];
  SIZE_LEGEND_VALUES.forEach((v, k) => {
    graphic.push({ type: "circle", silent: true, shape: { cx: SIZE_X[k], cy: 1045, r: bubbleSize(v) / 2 }, style: { fill: "none", stroke: "#111", lineWidth: 1.2 } });
    graphic.push(txt(String(v), SIZE_X[k] + bubbleSize(v) / 2 + 4, 1045, 10.5, { color: "#222" }));
  });
  // color legend
  graphic.push(txt("{a|Log}{b|2}{a|Fold Change}", 602, 1045, 10, { rich: { a: { fontSize: 10, fontFamily: FONT, fill: "#222", color: "#222" }, b: { fontSize: 6, fontFamily: FONT, fill: "#222", color: "#222", padding: [5, 0, 0, 0] } } }));
  const barL = 689, barR = 793, barT = 1030.5, barH = 11;
  const span = FC_RANGE[1] - FC_RANGE[0];
  graphic.push({
    type: "rect", silent: true, shape: { x: barL, y: barT, width: barR - barL, height: barH },
    style: { fill: new echarts.graphic.LinearGradient(0, 0, 1, 0, [{ offset: 0, color: fcColor(FC_RANGE[0]) }, { offset: (0 - FC_RANGE[0]) / span, color: fcColor(0) }, { offset: 1, color: fcColor(FC_RANGE[1]) }]) },
  });
  FC_LEGEND_TICKS.forEach((v) => {
    const x = barL + ((v - FC_RANGE[0]) / span) * (barR - barL);
    graphic.push({ type: "line", silent: true, shape: { x1: x, y1: barT, x2: x, y2: barT + 2.5 }, style: { stroke: "#FFFFFF", lineWidth: 1 } });
    graphic.push({ type: "line", silent: true, shape: { x1: x, y1: barT + barH - 2.5, x2: x, y2: barT + barH }, style: { stroke: "#FFFFFF", lineWidth: 1 } });
    graphic.push(txt(minus(v), x, 1053, 10.5, { align: "center", color: "#333" }));
  });

  // ---------- A legend ----------
  graphic.push({ type: "polygon", silent: true, shape: { points: [[338, 103], [333, 112], [343, 112]] }, style: { fill: "#111" } });
  graphic.push(txt("ALD", 350, 108.5, 8.5, { color: "#333" }));
  graphic.push({ type: "circle", silent: true, shape: { cx: 338, cy: 123, r: 4.2 }, style: { fill: "#111" } });
  graphic.push(txt("control", 350, 123, 8.5, { color: "#333" }));
  graphic.push({ type: "circle", silent: true, shape: { cx: 338, cy: 154, r: 4.2 }, style: { fill: DARK_RED } });
  graphic.push(txt("50", 350, 154, 8.5, { color: "#333" }));
  graphic.push({ type: "circle", silent: true, shape: { cx: 338, cy: 168, r: 4.2 }, style: { fill: LIGHT_RED } });
  graphic.push(txt("100", 350, 168, 8.5, { color: "#333" }));

  // ---------- panel letters ----------
  [["A", 3, 10], ["B", 406, 10], ["C", 3, 309], ["D", 3, 560], ["E", 3, 823]].forEach(([l, x, y]: any) => graphic.push(txt(l, x, y, 15, { bold: true, color: "#000" })));

  return {
    animation: false,
    backgroundColor: "#FFFFFF",
    textStyle: { fontFamily: FONT },
    grid,
    xAxis,
    yAxis,
    series,
    graphic: { elements: graphic },
    visualMap: [{ type: "continuous", show: false, dimension: 3, seriesIndex: bubbleSeries, min: -FC_LIMIT, max: FC_LIMIT, inRange: { color: FC_COLORS } }],
  };
}

export default function App() {
  const ref = useRef<HTMLDivElement>(null);
  useEffect(() => {
    document.body.style.margin = "0";
    const chart = echarts.init(ref.current as HTMLDivElement, null, { renderer: "svg" });
    chart.setOption(buildOption() as any);
    return () => chart.dispose();
  }, []);
  return <div ref={ref} style={{ width: 798, height: 1058 }} />;
}
